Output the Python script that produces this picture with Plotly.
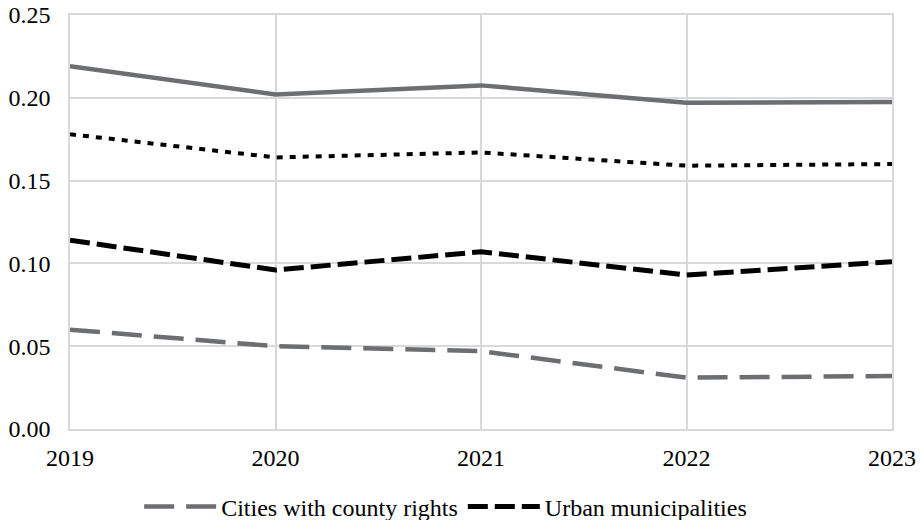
import plotly.graph_objects as go

years = [2019, 2020, 2021, 2022, 2023]
y_tick_vals = [0.00, 0.05, 0.10, 0.15, 0.20, 0.25]

cities_county_rights = [0.060, 0.050, 0.047, 0.031, 0.032]
urban_municipalities = [0.114, 0.096, 0.107, 0.093, 0.101]
series_solid = [0.219, 0.202, 0.2075, 0.197, 0.1975]
series_dotted = [0.178, 0.164, 0.167, 0.159, 0.160]

GRAY = "#6d6e71"
GRID = "#d9d9d9"
FONT = "Liberation Serif, Times New Roman, DejaVu Serif, serif"
FS = 24

fig = go.Figure()
fig.add_trace(go.Scatter(x=years, y=series_solid, mode="lines", name="Series A",
                         showlegend=False, line=dict(color=GRAY, width=4.5)))
fig.add_trace(go.Scatter(x=years, y=series_dotted, mode="lines", name="Series B",
                         showlegend=False, line=dict(color="black", width=4, dash="6px,7px")))
fig.add_trace(go.Scatter(x=years, y=cities_county_rights, mode="lines",
                         name="Cities with county rights",
                         line=dict(color=GRAY, width=4.5, dash="30px,12px")))
fig.add_trace(go.Scatter(x=years, y=urban_municipalities, mode="lines",
                         name="Urban municipalities",
                         line=dict(color="black", width=5, dash="20px,7px")))

fig.update_layout(
    width=921, height=520, autosize=False,
    margin=dict(l=70, t=15, r=29, b=91, autoexpand=False),
    paper_bgcolor="white", plot_bgcolor="white",
    font=dict(family=FONT, size=FS, color="black"),
    legend=dict(orientation="h", x=0.457, xanchor="center", y=-0.188, yanchor="middle",
                itemwidth=72, font=dict(family=FONT, size=FS), traceorder="normal"),
)
fig.update_xaxes(range=[2019, 2023], tickvals=years, showgrid=True, gridcolor=GRID,
                 gridwidth=1.5, showline=True, linecolor=GRID, linewidth=1.5, mirror=True,
                 zeroline=False, ticks="", ticklabelstandoff=6, automargin=False,
                 ticklabeloverflow="allow", tickfont=dict(family=FONT, size=FS))
fig.update_yaxes(range=[0, 0.25], tickvals=y_tick_vals, tickformat=".2f", showgrid=True,
                 gridcolor=GRID, gridwidth=1.5, showline=True, linecolor=GRID, linewidth=1.5,
                 mirror=True, zeroline=False, ticks="", ticklabelstandoff=13, automargin=False,
                 ticklabeloverflow="allow", tickfont=dict(family=FONT, size=FS))

fig.write_html("out.html", config={"displayModeBar": False},
               post_script="document.body.style.margin='0px';")
